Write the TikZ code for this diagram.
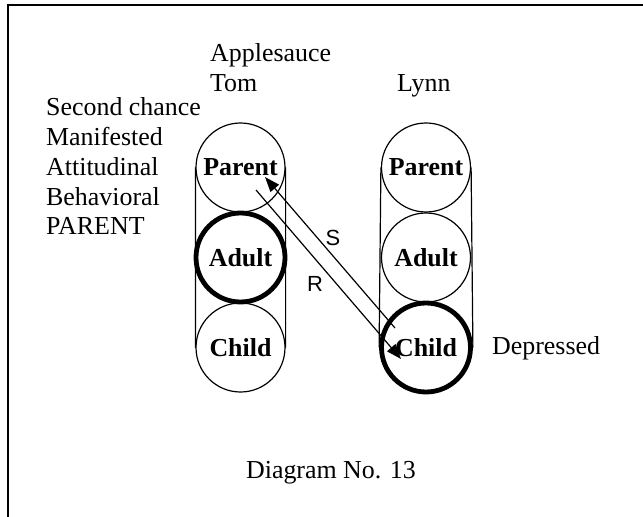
\documentclass[tikz,border=0pt]{standalone}
\usepackage{fontspec}
\setmainfont{Liberation Serif}
\newfontfamily\sansfnt{Liberation Sans}
\usetikzlibrary{arrows.meta, calc}

\begin{document}
\begin{tikzpicture}[x=1bp, y=-1bp,
  ego/.style={circle, draw, minimum size=89bp, inner sep=0pt, line width=1.2bp,
              font=\fontsize{26}{30}\selectfont\bfseries},
  hot/.style={line width=4.8bp},
  lbl/.style={inner sep=0pt, align=left, font=\fontsize{26}{30}\selectfont},
  msg/.style={line width=1.2bp, -{Triangle[length=15bp, width=11bp]}},
  letter/.style={inner sep=0pt, font=\fontsize{22}{26}\selectfont\sansfnt},
]
  \useasboundingbox (0,0) rectangle (643,517);
  \draw[line width=1.5bp] (8,5) rectangle (700,580);

  \node[ego] (tomP) at (240.5,167.5) {Parent};
  \node[ego, hot] (tomA) at (240.5,257.5) {Adult};
  \node[ego] (tomC) at (240.5,347.5) {Child};
  \node[ego] (lynnP) at (426,167.5) {Parent};
  \node[ego] (lynnA) at (426,257.5) {Adult};
  \node[ego, hot] (lynnC) at (426,347.5) {Child};
  \draw[line width=1.2bp] (tomP.west) -- (tomC.west) (tomP.east) -- (tomC.east)
    (lynnP.west) -- (lynnC.west) (lynnP.east) -- (lynnC.east);

  \node[lbl, anchor=north west] (names) at (210,43) {Applesauce\\Tom};
  \node[lbl, anchor=north west] (lynn) at (397,74.5) {Lynn};
  \node[lbl, anchor=north west] (roles) at (46,97.2)
    {Second chance\\Manifested\\Attitudinal\\Behavioral\\PARENT};
  \node[lbl, anchor=base west] (mood) at (492,354) {Depressed};
  \node[lbl, anchor=base] (title) at (331,478) {Diagram No. 13};

  \coordinate (sTail) at ($(lynnC)+(-31,-19.5)$);
  \coordinate (sHead) at ($(tomP)+(24.5,9.5)$);
  \coordinate (rTail) at ($(tomP)+(15.5,22.5)$);
  \coordinate (rHead) at ($(lynnC)+(-25,11.5)$);
  \draw[msg] (sTail) -- (sHead);
  \draw[msg] (rTail) -- (rHead);
  \node[letter] (s) at (333,238) {S};
  \node[letter] (r) at (315,284) {R};
\end{tikzpicture}
\end{document}
